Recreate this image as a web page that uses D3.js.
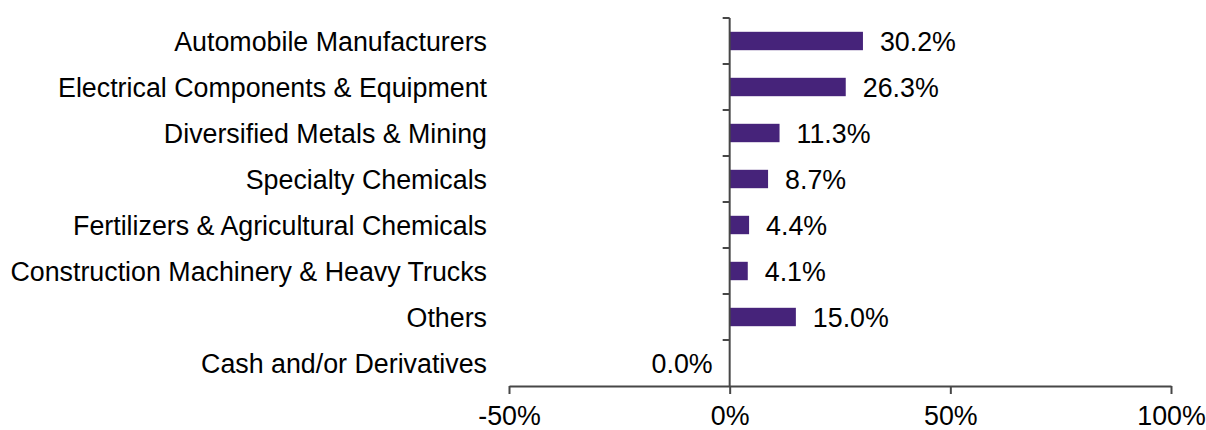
<!DOCTYPE html>
<html>
<head>
<meta charset="utf-8">
<script src="https://cdn.jsdelivr.net/npm/d3@7"></script>
<style>
  body { margin: 0; background: #fff; }
  text { font-family: Arial, "Liberation Sans", sans-serif; fill: #000; }
</style>
</head>
<body>
<div id="main"></div>
<script>
const categories = [
  "Automobile Manufacturers",
  "Electrical Components & Equipment",
  "Diversified Metals & Mining",
  "Specialty Chemicals",
  "Fertilizers & Agricultural Chemicals",
  "Construction Machinery & Heavy Trucks",
  "Others",
  "Cash and/or Derivatives"
];
const weights = [30.2, 26.3, 11.3, 8.7, 4.4, 4.1, 15.0, 0.0];
const xTicks = [-50, 0, 50, 100];

const W = 1206, H = 430;
const FONT = 26.8;

const svg = d3.select("#main").append("svg")
  .attr("width", W).attr("height", H);

const x = d3.scaleLinear().domain([-50, 100]).range([509, 1171]);
const y = d3.scaleBand().domain(categories).range([18, 386]).paddingInner(0.6).paddingOuter(0.3);

const axisColor = "#474747";

// bars
svg.append("g").selectAll("rect")
  .data(weights)
  .enter().append("rect")
  .attr("x", d => x(Math.min(0, d)))
  .attr("y", (d, i) => y(categories[i]))
  .attr("width", d => Math.abs(x(d) - x(0)))
  .attr("height", y.bandwidth())
  .attr("fill", "#46237a");

// value labels
svg.append("g").selectAll("text")
  .data(weights)
  .enter().append("text")
  .attr("x", d => d > 0 ? x(d) + 17 : x(0) - 17)
  .attr("y", (d, i) => y(categories[i]) + y.bandwidth() / 2)
  .attr("dy", "0.38em")
  .attr("text-anchor", d => d > 0 ? "start" : "end")
  .style("font-size", FONT + "px")
  .text(d => d.toFixed(1) + "%");

// x axis
const xAxis = svg.append("g").attr("transform", "translate(0,386)")
  .call(d3.axisBottom(x).tickValues(xTicks).tickSize(8).tickSizeOuter(0).tickPadding(12)
    .tickFormat(d => d + "%"));
xAxis.select(".domain").attr("stroke", axisColor).attr("stroke-width", 2);
xAxis.selectAll(".tick line").attr("stroke", axisColor).attr("stroke-width", 2);
xAxis.selectAll(".tick text")
  .style("font-size", FONT + "px")
  .style("font-family", "Arial, 'Liberation Sans', sans-serif")
  .attr("fill", "#000");

// y axis at zero, ticks at band boundaries
const bounds = d3.range(categories.length + 1).map(i => 18 + i * (368 / categories.length));
const yAxis = svg.append("g");
yAxis.append("line")
  .attr("x1", x(0)).attr("x2", x(0))
  .attr("y1", bounds[0]).attr("y2", 386)
  .attr("stroke", axisColor).attr("stroke-width", 2);
yAxis.selectAll("line.tk")
  .data(bounds.slice(0, -1))
  .enter().append("line")
  .attr("class", "tk")
  .attr("x1", x(0) - 7).attr("x2", x(0))
  .attr("y1", d => d).attr("y2", d => d)
  .attr("stroke", axisColor).attr("stroke-width", 2);

// category labels
svg.append("g").selectAll("text")
  .data(categories)
  .enter().append("text")
  .attr("x", 487)
  .attr("y", d => y(d) + y.bandwidth() / 2)
  .attr("dy", "0.38em")
  .attr("text-anchor", "end")
  .style("font-size", FONT + "px")
  .text(d => d);
</script>
</body>
</html>
